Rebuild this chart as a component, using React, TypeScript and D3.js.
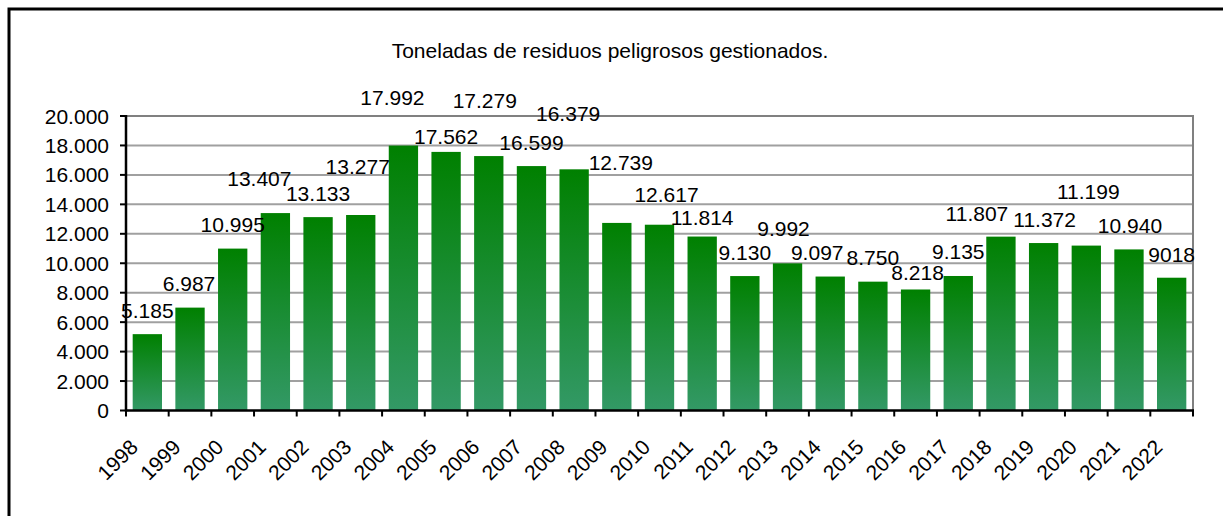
import React from "react";
import * as d3 from "d3";

const years = ["1998","1999","2000","2001","2002","2003","2004","2005","2006","2007","2008","2009","2010","2011","2012","2013","2014","2015","2016","2017","2018","2019","2020","2021","2022"];
const tonnes = [5185, 6987, 10995, 13407, 13133, 13277, 17992, 17562, 17279, 16599, 16379, 12739, 12617, 11814, 9130, 9992, 9097, 8750, 8218, 9135, 11807, 11372, 11199, 10940, 9018];
const valueLabels = ["5.185","6.987","10.995","13.407","13.133","13.277","17.992","17.562","17.279","16.599","16.379","12.739","12.617","11.814","9.130","9.992","9.097","8.750","8.218","9.135","11.807","11.372","11.199","10.940","9018"];
const yTicks = [0, 2000, 4000, 6000, 8000, 10000, 12000, 14000, 16000, 18000, 20000];
const title = "Toneladas de residuos peligrosos gestionados.";

// manual label nudges (dx, dy) as placed in the original chart
const labelNudges: [number, number][] = [
  [0,0],[-1,0],[0,0],[-16,-11],[0,0],[-3,-24],[-11,-24],[0,9],[-4,-32],[0,0],
  [-6,-32],[4,-36],[7,-6],[0,5],[0,0],[-4,-11],[-13,0],[0,0],[2,7],[0,0],
  [-24,1],[1,0],[2,-30],[1,0],[0,1]
];

const W = 1223, H = 516;
const L = 126, R = 1193, T = 116, B = 410.5;
const FONT = "'Liberation Sans', Arial, sans-serif";
const FS = 21;

const loc = d3.formatLocale({ decimal: ",", thousands: ".", grouping: [3], currency: ["", ""] });
const fmt = loc.format(",");

export default function App() {
  const x = d3.scaleBand<string>().domain(years).range([L, R]).paddingInner(0.313).paddingOuter(0.1565);
  const y = d3.scaleLinear().domain([0, 20000]).range([B, T]);
  const step = x.step();
  const boundaries = d3.range(years.length + 1).map(i => L + i * step);

  return (
    <svg width={W} height={H} style={{ position: "absolute", left: 0, top: 0, background: "#fff" }} fontFamily={FONT}>
      <defs>
        <linearGradient id="barGrad" x1="0" y1="0" x2="0" y2="1">
          <stop offset="0%" stopColor="#008000" />
          <stop offset="100%" stopColor="#339966" />
        </linearGradient>
      </defs>
      <rect x={0} y={0} width={W} height={H} fill="#fff" />
      <rect x={9} y={9} width={W + 20} height={H + 20} fill="none" stroke="#000" strokeWidth={3} />
      <text x={610} y={58} textAnchor="middle" fontSize={FS} fill="#000">{title}</text>

      {/* gridlines */}
      {yTicks.filter(t => t > 0).map(t => (
        <line key={"g" + t} x1={L} x2={R} y1={y(t)} y2={y(t)} stroke={t === 20000 ? "#808080" : "#a0a0a0"} strokeWidth={2} />
      ))}
      <line x1={R} x2={R} y1={T - 1} y2={B} stroke="#808080" strokeWidth={2} />

      {/* bars */}
      {years.map((yr, i) => (
        <rect key={yr} x={x(yr)!} y={y(tonnes[i])} width={x.bandwidth()} height={B - y(tonnes[i])} fill="url(#barGrad)" />
      ))}

      {/* axes */}
      <line x1={L} x2={L} y1={T - 1} y2={B + 1} stroke="#000" strokeWidth={2.5} />
      <line x1={L - 1} x2={R + 1} y1={B} y2={B} stroke="#000" strokeWidth={2.5} />
      {yTicks.map(t => (
        <g key={"yt" + t}>
          <line x1={L - 6} x2={L} y1={y(t)} y2={y(t)} stroke="#000" strokeWidth={2} />
          <text x={109} y={y(t) + 7.5} textAnchor="end" fontSize={FS} fill="#000">{fmt(t)}</text>
        </g>
      ))}
      {boundaries.map((bx, i) => (
        <line key={"xt" + i} x1={bx} x2={bx} y1={B} y2={B + 6} stroke="#000" strokeWidth={2} />
      ))}
      {years.map(yr => {
        const cx = x(yr)! + x.bandwidth() / 2;
        return (
          <text key={"xl" + yr} transform={`translate(${cx - 8},${448.5}) rotate(-45)`} textAnchor="end" fontSize={FS} fill="#000">{yr}</text>
        );
      })}

      {/* value labels */}
      {years.map((yr, i) => {
        const cx = x(yr)! + x.bandwidth() / 2;
        const [dx, dy] = labelNudges[i];
        return (
          <text key={"vl" + yr} x={cx + dx} y={y(tonnes[i]) - 16.5 + dy} textAnchor="middle" fontSize={FS} fill="#000">{valueLabels[i]}</text>
        );
      })}
    </svg>
  );
}
